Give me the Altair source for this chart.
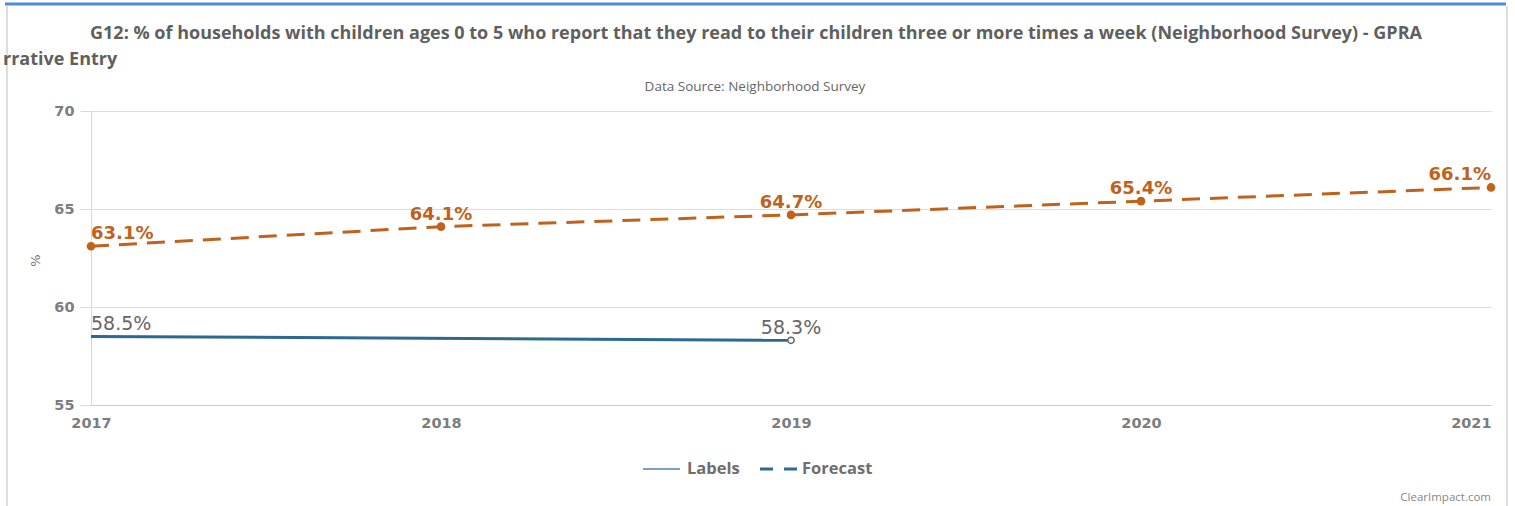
import altair as alt
import pandas as pd

# ---- data ----
actual_years = [2017, 2019]
actual_values = [58.5, 58.3]
forecast_years = [2017, 2018, 2019, 2020, 2021]
forecast_values = [63.1, 64.1, 64.7, 65.4, 66.1]
year_ticks = [2017, 2018, 2019, 2020, 2021]
y_ticks = [55, 60, 65, 70]

title_line1 = ("G12: % of households with children ages 0 to 5 who report that they read to "
               "their children three or more times a week (Neighborhood Survey) - GPRA")
title_line2 = "rrative Entry"
subtitle = "Data Source: Neighborhood Survey"
credit = "ClearImpact.com"
legend_names = ["Labels", "Forecast"]

ORANGE = "#c0621b"
BLUE = "#2b6892"
GRAY_TXT = "#666666"
W, H = 1400, 294
TFONT = "Open Sans"


def align_for(year):
    if year == min(year_ticks):
        return "left"
    if year == max(year_ticks):
        return "right"
    return "center"


actual = pd.DataFrame({"year": actual_years, "value": actual_values})
actual["label"] = [f"{v:.1f}%" for v in actual_values]
actual["align"] = [align_for(y) for y in actual_years]
actual["last"] = [i == len(actual_years) - 1 for i in range(len(actual_years))]

fc = pd.DataFrame({"year": forecast_years, "value": forecast_values})
fc["label"] = [f"{v:.1f}%" for v in forecast_values]
fc["align"] = [align_for(y) for y in forecast_years]

xs = alt.Scale(domain=[min(year_ticks), max(year_ticks)], nice=False, zero=False)
ys = alt.Scale(domain=[min(y_ticks), max(y_ticks)], nice=False, zero=False)

x_axis = alt.Axis(
    values=year_ticks, format="d", title=None, grid=False, ticks=False,
    domainColor="#cccccc", domainWidth=1,
    labelFont="DejaVu Sans", labelFontWeight="bold", labelFontSize=14.5,
    labelColor="#7d7d7d", labelPadding=11,
    labelAlign={"expr": f"datum.value == {max(year_ticks)} ? 'right' : 'center'"},
)
y_axis = alt.Axis(
    values=y_ticks, title="%", grid=True, gridColor="#dddddd", gridWidth=1,
    domainColor="#d8d8d8", tickColor="#d8d8d8", tickSize=11,
    labelFont="DejaVu Sans", labelFontWeight="bold", labelFontSize=14.5,
    labelColor="#7d7d7d", labelPadding=6,
    titleFont="DejaVu Sans", titleFontSize=13, titleFontWeight="normal",
    titleColor="#777777", titleX=-56, titleY=149, titleAngle=270,
    titleAlign="center", titleBaseline="middle",
)

X = alt.X("year:Q", scale=xs, axis=x_axis)
Y = alt.Y("value:Q", scale=ys, axis=y_axis)

base_fc = alt.Chart(fc)
base_ac = alt.Chart(actual)

fc_line = base_fc.mark_line(color=ORANGE, strokeWidth=3, strokeDash=[18, 10]).encode(x=X, y=Y)
fc_pts = base_fc.mark_circle(color=ORANGE, size=75, opacity=1).encode(x=X, y=Y)
ac_line = base_ac.mark_line(color=BLUE, strokeWidth=3).encode(x=X, y=Y)
ac_pt = base_ac.transform_filter("datum.last").mark_point(
    shape="circle", filled=True, fill="white", stroke="#666666", strokeWidth=1.5, size=40, opacity=1
).encode(x=X, y=Y)

label_layers = []
for a in ["left", "center", "right"]:
    label_layers.append(
        base_fc.transform_filter(f"datum.align == '{a}'").mark_text(
            align=a, baseline="alphabetic", dy=-7, font="DejaVu Sans", fontWeight="bold",
            fontSize=18, color=ORANGE
        ).encode(x=X, y=Y, text="label:N")
    )
    label_layers.append(
        base_ac.transform_filter(f"datum.align == '{a}'").mark_text(
            align=a, baseline="alphabetic", dy=-6, font="DejaVu Sans", fontWeight="normal",
            fontSize=19, color=GRAY_TXT
        ).encode(x=X, y=Y, text="label:N")
    )

# ---- decorations (title, subtitle, legend, frame) ----
one = alt.Chart(pd.DataFrame({"k": [0]}))

t1 = one.mark_text(text=title_line1, align="center", baseline="alphabetic", font=TFONT,
                   fontWeight="bold", fontSize=18, color="#5f5f5f").encode(
    x=alt.value(665), y=alt.value(-72))
t2 = one.mark_text(text=title_line2, align="left", baseline="alphabetic", font=TFONT,
                   fontWeight="bold", fontSize=18, color="#5f5f5f").encode(
    x=alt.value(-88), y=alt.value(-46))
st = one.mark_text(text=subtitle, align="center", baseline="alphabetic", font=TFONT,
                   fontSize=13.5, color="#666666").encode(x=alt.value(664), y=alt.value(-20))
cr = one.mark_text(text=credit, align="right", baseline="alphabetic", font=TFONT,
                   fontSize=11.5, color="#888888").encode(x=alt.value(1400), y=alt.value(390))

leg_line1 = one.mark_rule(color="#7f9ec4", strokeWidth=2).encode(
    x=alt.value(552), x2=alt.value(589), y=alt.value(358))
leg_text1 = one.mark_text(text=legend_names[0], align="left", baseline="middle", font=TFONT,
                          fontWeight="bold", fontSize=16.5, color="#6e6e6e").encode(
    x=alt.value(596), y=alt.value(358))
leg_line2 = one.mark_rule(color="#2f6b94", strokeWidth=3, strokeDash=[13, 11]).encode(
    x=alt.value(669), x2=alt.value(708), y=alt.value(358))
leg_text2 = one.mark_text(text=legend_names[1], align="left", baseline="middle", font=TFONT,
                          fontWeight="bold", fontSize=16.5, color="#6e6e6e").encode(
    x=alt.value(711), y=alt.value(358))

frame_top = one.mark_rule(color="#4a8edb", strokeWidth=3).encode(
    x=alt.value(-86), x2=alt.value(1415), y=alt.value(-107))
frame_left = one.mark_rule(color="#dddddd", strokeWidth=2).encode(
    x=alt.value(-84), y=alt.value(-105), y2=alt.value(400))
frame_right = one.mark_rule(color="#dddddd", strokeWidth=2).encode(
    x=alt.value(1416), y=alt.value(-105), y2=alt.value(400))

chart = alt.layer(
    fc_line, ac_line, fc_pts, ac_pt, *label_layers,
    frame_top, frame_left, frame_right,
    t1, t2, st, cr, leg_line1, leg_text1, leg_line2, leg_text2,
).properties(
    width=W, height=H,
    autosize=alt.AutoSizeParams(type="none"),
    padding={"left": 91, "top": 111, "right": 24, "bottom": 101},
    background="white",
).configure_view(stroke=None, clip=False)

chart.save("out.html", embed_options={"renderer": "svg", "actions": False})
